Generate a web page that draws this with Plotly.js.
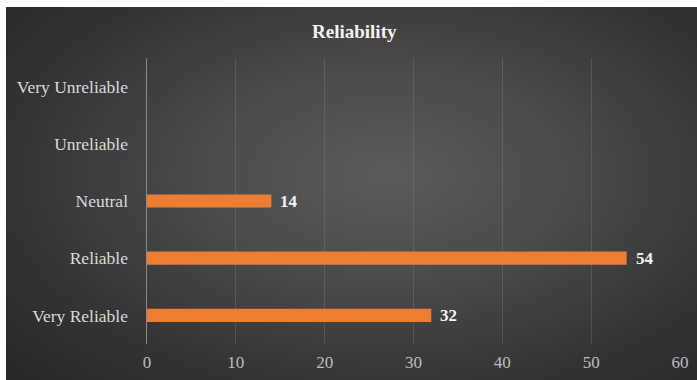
<!DOCTYPE html>
<html>
<head>
<meta charset="utf-8">
<script src="https://cdn.plot.ly/plotly-3.0.1.min.js"></script>
<style>
  html, body { margin: 0; padding: 0; background: #ffffff; width: 697px; height: 380px; overflow: hidden; }
  #chart {
    position: absolute; left: 6px; top: 7px; width: 691px; height: 373px;
    background: radial-gradient(ellipse 75% 80% at 55% 45%, #5a5b5b 0%, #4a4b4b 35%, #353535 70%, #272727 100%);
  }
</style>
</head>
<body>
<div id="chart"></div>
<script>
// Survey responses on perceived reliability
const categories = ["Very Reliable", "Reliable", "Neutral", "Unreliable", "Very Unreliable"];
const counts = [32, 54, 14, 0, 0];
const xTicks = [0, 10, 20, 30, 40, 50, 60];

const serif = "'Liberation Serif', 'Times New Roman', serif";

const trace = {
  type: "bar",
  orientation: "h",
  y: categories,
  x: counts,
  marker: { color: "#ED7D31" },
  hoverinfo: "none"
};

// value labels just past the end of each non-empty bar
const valueLabels = categories
  .map((c, i) => ({ c, v: counts[i] }))
  .filter(d => d.v > 0)
  .map(d => ({
    x: d.v, y: d.c, xref: "x", yref: "y",
    text: "<b>" + d.v + "</b>",
    showarrow: false, xanchor: "left", yanchor: "middle", xshift: 7, yshift: 0,
    font: { family: serif, size: 17, color: "#f4f4f4" }
  }));

const layout = {
  width: 691,
  height: 373,
  paper_bgcolor: "rgba(0,0,0,0)",
  plot_bgcolor: "rgba(0,0,0,0)",
  margin: { l: 141, r: 17, t: 51, b: 36 },
  bargap: 0.77,
  showlegend: false,
  annotations: valueLabels,
  title: {
    text: "<b>Reliability</b>",
    font: { family: serif, size: 19, color: "#f2f2f2" },
    x: 0.504, xanchor: "center",
    y: 0.935, yanchor: "middle"
  },
  xaxis: {
    range: [0, 60],
    tickvals: xTicks,
    ticktext: xTicks.map(String),
    showgrid: true,
    gridcolor: "rgba(140,140,140,0.3)",
    gridwidth: 1,
    zeroline: false,
    showline: false,
    ticks: "",
    ticklabelstandoff: 6,
    tickfont: { family: serif, size: 17, color: "#bdbdbd" },
    fixedrange: true
  },
  yaxis: {
    type: "category",
    categoryorder: "array",
    categoryarray: categories,
    showgrid: false,
    zeroline: false,
    showline: true,
    linecolor: "#8a8a8a",
    linewidth: 1.5,
    ticks: "",
    ticklabelstandoff: 14,
    tickfont: { family: serif, size: 17.5, color: "#dadada" },
    fixedrange: true
  }
};

Plotly.newPlot("chart", [trace], layout, { displayModeBar: false, staticPlot: true });
</script>
</body>
</html>
